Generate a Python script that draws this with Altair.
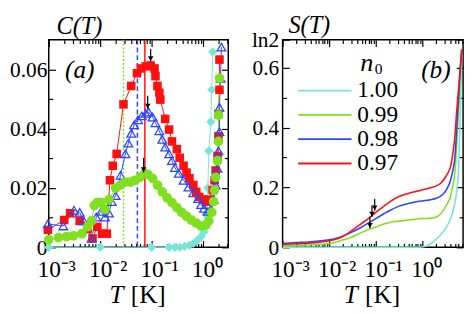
import altair as alt
import pandas as pd

FONT = "Liberation Serif"
RED, BLUE, GREEN, CYAN = "#ff1010", "#2a46ff", "#80e020", "#76e6d6"
LN2 = 0.693147

# ---------------- panel (a): C(T) ----------------
red_T = [0.00096, 0.0020, 0.0026, 0.0040, 0.0057, 0.0071, 0.0088, 0.0109, 0.0135, 0.0155,
         0.0176, 0.0209, 0.0284, 0.0402, 0.0521, 0.0620, 0.0771, 0.0958, 0.114, 0.119,
         0.130, 0.1415, 0.148, 0.184, 0.219, 0.249, 0.310, 0.352, 0.419, 0.478,
         0.544, 0.647, 0.738, 0.841, 1.00, 1.14, 1.30, 1.545, 1.68, 1.76,
         1.92, 2.00, 2.00, 2.09, 2.09]
red_C = [0.0059, 0.0092, 0.0115, 0.0089, 0.0062, 0.0030, 0.0069, 0.0046, 0.0046, 0.0226,
         0.0275, 0.0315, 0.0482, 0.0544, 0.0587, 0.0603, 0.0610, 0.0613, 0.0603, 0.0577,
         0.0544, 0.0521, 0.0498, 0.0433, 0.0397, 0.0357, 0.0331, 0.0302, 0.0275, 0.0252,
         0.0233, 0.0210, 0.0187, 0.0170, 0.0161, 0.0154, 0.0161, 0.0193, 0.0226, 0.0259,
         0.0308, 0.0374, 0.0449, 0.0531, 0.0633]

blue_T = [0.00096, 0.00192, 0.0031, 0.0040, 0.0048, 0.0068, 0.0084, 0.0104, 0.0124, 0.0148,
          0.0168, 0.0200, 0.0249, 0.0310, 0.0353, 0.0402, 0.0457, 0.0544, 0.0647, 0.0771,
          0.0878, 0.1045, 0.119, 0.1415, 0.161, 0.184, 0.219, 0.249, 0.284, 0.338,
          0.419, 0.521, 0.647, 0.805, 0.917, 1.044, 1.24, 1.42, 1.61, 1.76,
          1.92, 2.00, 2.09, 2.09, 2.19, 2.28]
blue_C = [0.0079, 0.0072, 0.0125, 0.0118, 0.0089, 0.0030, 0.0102, 0.0121, 0.0102, 0.0115,
          0.0154, 0.0174, 0.0243, 0.0315, 0.0351, 0.0384, 0.0413, 0.0430, 0.0443, 0.0452,
          0.0456, 0.0439, 0.0420, 0.0393, 0.0364, 0.0338, 0.0315, 0.0292, 0.0269, 0.0249,
          0.0226, 0.0203, 0.0184, 0.0164, 0.0144, 0.0131, 0.0121, 0.0128, 0.0161, 0.0210,
          0.0266, 0.0325, 0.0390, 0.0472, 0.0570, 0.0675]

green_T = [0.001, 0.00155, 0.0022, 0.0030, 0.0044, 0.0057, 0.0068, 0.0077, 0.0088, 0.0104,
           0.0124, 0.0148, 0.0200, 0.0249, 0.0310, 0.0385, 0.0477, 0.0594, 0.0737, 0.0841,
           0.1045, 0.130, 0.161, 0.200, 0.249, 0.310, 0.385, 0.478, 0.594, 0.738,
           0.917, 1.14, 1.30, 1.48, 1.61, 1.68, 1.76, 1.92, 2.00, 2.00, 2.09]
green_C = [0.0026, 0.0033, 0.0036, 0.0039, 0.0046, 0.0069, 0.0089, 0.0141, 0.0151, 0.0151,
           0.0128, 0.0161, 0.0200, 0.0210, 0.0220, 0.0220, 0.0226, 0.0236, 0.0249, 0.0246,
           0.0233, 0.0210, 0.0187, 0.0167, 0.0151, 0.0134, 0.0118, 0.0105, 0.0092, 0.0082,
           0.0072, 0.0075, 0.0089, 0.0118, 0.0154, 0.0193, 0.0236, 0.0292, 0.0357, 0.0446, 0.0570]

cyan_T = [0.001, 0.01, 0.1, 0.219, 0.284, 0.352, 0.438, 0.544, 0.647, 0.771,
          0.917, 1.044, 1.14, 1.24, 1.30, 1.42, 1.48, 1.545]
cyan_C = [0, 0, 0, 0, 0, 0, 0.0003, 0.0007, 0.0013, 0.0023,
          0.0036, 0.0052, 0.0111, 0.0200, 0.0325, 0.0423, 0.0531, 0.0659]

vline_T = [0.0284, 0.053, 0.074]          # green dotted, blue dashed, red solid
arrowA_T = [0.096, 0.084, 0.070]
arrowA_tail = [0.0669, 0.0511, 0.0302]
arrowA_tip = [0.0626, 0.0466, 0.0252]

# ---------------- panel (b): S(T) ----------------
S_T = [0.001, 0.002, 0.0035, 0.006, 0.01, 0.015, 0.02, 0.03, 0.05, 0.075,
       0.1, 0.15, 0.2, 0.3, 0.5, 0.7, 1.0, 1.5, 2.0, 2.5,
       3.0, 3.5, 4.0, 4.5, 5.0, 5.5, 6.0, 6.5, 7.0]
S_097 = [0.010, 0.012, 0.014, 0.017, 0.022, 0.029, 0.037, 0.055, 0.080, 0.100,
         0.117, 0.138, 0.152, 0.168, 0.180, 0.186, 0.192, 0.199, 0.205, 0.215,
         0.230, 0.247, 0.267, 0.310, 0.370, 0.460, 0.530, 0.600, 0.660]
S_098 = [0.013, 0.016, 0.018, 0.021, 0.025, 0.031, 0.038, 0.050, 0.068, 0.084,
         0.096, 0.112, 0.123, 0.136, 0.146, 0.151, 0.155, 0.159, 0.164, 0.172,
         0.183, 0.200, 0.222, 0.255, 0.300, 0.400, 0.500, 0.590, 0.660]
S_099 = [0.004, 0.006, 0.008, 0.010, 0.013, 0.019, 0.025, 0.034, 0.050, 0.061,
         0.068, 0.078, 0.083, 0.087, 0.091, 0.094, 0.096, 0.097, 0.101, 0.112,
         0.130, 0.148, 0.168, 0.205, 0.250, 0.350, 0.460, 0.570, 0.655]
S_100 = [0, 0, 0, 0, 0, 0, 0, 0, 0, 0,
         0, 0, 0, 0, 0, 0, 0.001, 0.012, 0.028, 0.043,
         0.058, 0.075, 0.094, 0.118, 0.148, 0.190, 0.260, 0.440, 0.645]
arrowB_T = [0.095, 0.083, 0.075]
arrowB_tail = [0.162, 0.140, 0.103]
arrowB_tip = [0.122, 0.101, 0.064]

n0_labels = ["1.00", "0.99", "0.98", "0.97"]
n0_colors = [CYAN, GREEN, BLUE, RED]

x_major = [0.001, 0.01, 0.1, 1.0]
x_major_labels = ["10⁻³", "10⁻²", "10⁻¹", "10⁰"]
ya_major = [0.0, 0.02, 0.04, 0.06]
ya_major_labels = ["0", "0.02", "0.04", "0.06"]
ya_minor = [0.01, 0.03, 0.05]
yb_major = [0.0, 0.2, 0.4, 0.6, LN2]
yb_major_labels = ["0", "0.2", "0.4", "0.6", "ln2"]
yb_minor = [0.1, 0.3, 0.5]

WA, WB, H = 185, 186, 214
XA_MAX, XB_MAX = 3.1, 7.5
MAJ, MIN = 7, 4


def minor_decades(xmax):
    return [m * 10.0 ** k for k in range(-3, 1) for m in range(2, 10) if m * 10.0 ** k <= xmax]


def label_expr(vals, labs):
    e = "''"
    for v, l in zip(reversed(vals), reversed(labs)):
        tol = max(abs(v) * 1e-3, 1e-9)
        e = f"abs(datum.value - ({v})) < {tol} ? '{l}' : ({e})"
    return e


def tick_axis(orient, values, size, **kw):
    opts = dict(orient=orient, values=values, tickSize=size, offset=-size, domain=False,
                grid=False, ticks=True, tickColor="black", tickWidth=1.2, labels=False,
                title=None)
    opts.update(kw)
    return alt.Axis(**opts)


XLAB = dict(labels=True, labelExpr=label_expr(x_major, x_major_labels), labelFont=FONT,
            labelFontSize=24, labelColor="black", labelPadding=11, labelAlign="left",
            labelOffset=-12, labelBaseline="top", labelFlush=False, labelOverlap=False)


def ylab(vals, labs, pad):
    return dict(labels=True, labelExpr=label_expr(vals, labs), labelFont=FONT,
                labelFontSize=22, labelColor="black", labelPadding=pad,
                labelFlush=False, labelOverlap=False)


def axis_layers(df, yfield, xscale, yscale, xmax, ymaj, ymajlab, ymin, ypad):
    base = alt.Chart(df).mark_point(opacity=0)
    xm = minor_decades(xmax)
    specs = [
        (tick_axis("bottom", x_major, MAJ, **XLAB), tick_axis("left", ymaj, MAJ, **ylab(ymaj, ymajlab, ypad))),
        (tick_axis("bottom", xm, MIN), tick_axis("left", ymin, MIN)),
        (tick_axis("top", x_major, MAJ), tick_axis("right", ymaj, MAJ)),
        (tick_axis("top", xm, MIN), tick_axis("right", ymin, MIN)),
    ]
    return [base.encode(x=alt.X("T:Q", scale=xscale, axis=ax_x),
                        y=alt.Y(f"{yfield}:Q", scale=yscale, axis=ax_y)) for ax_x, ax_y in specs]


def text_label(text, x, y, size, align="left", baseline="alphabetic", style="italic"):
    return alt.Chart(pd.DataFrame({"t": [text]})).mark_text(
        align=align, baseline=baseline, font=FONT, fontSize=size, fontStyle=style, color="black"
    ).encode(text="t:N", x=alt.value(x), y=alt.value(y))


def arrows(T, tail, tip, X, yscale):
    df = pd.DataFrame({"T": T, "tail": tail, "tip": tip})
    shaft = alt.Chart(df).mark_rule(color="black", strokeWidth=1.2).encode(
        x=X, y=alt.Y("tail:Q", scale=yscale, axis=None), y2="tip:Q")
    head = alt.Chart(df).mark_point(shape="triangle-down", filled=True, color="black",
                                    size=32, opacity=1, yOffset=-3).encode(
        x=X, y=alt.Y("tip:Q", scale=yscale, axis=None))
    return [shaft, head]


# ---------- panel (a) ----------
xsa = alt.Scale(type="log", domain=[0.001, XA_MAX], nice=False)
ysa = alt.Scale(domain=[0, 0.07], nice=False, zero=False)
XA = alt.X("T:Q", scale=xsa, axis=None)
YA = alt.Y("C:Q", scale=ysa, axis=None)


def dfs(T, V):
    return pd.DataFrame({"T": T, "C": V, "i": list(range(len(T)))})


df_a_all = pd.concat([dfs(red_T, red_C), dfs(blue_T, blue_C), dfs(green_T, green_C), dfs(cyan_T, cyan_C)])

series_specs = [
    (cyan_T, cyan_C, CYAN, lambda c: c.mark_point(shape="diamond", size=90, filled=True, color=CYAN, opacity=1)),
    (red_T, red_C, RED, lambda c: c.mark_square(size=78, color=RED, opacity=1)),
    (blue_T, blue_C, BLUE, lambda c: c.mark_point(shape="triangle-up", size=80, filled=False, color=BLUE, strokeWidth=1.3, opacity=1)),
    (green_T, green_C, GREEN, lambda c: c.mark_circle(size=100, color=GREEN, opacity=1)),
]

rule_styles = [dict(color=GREEN, strokeDash=[2, 2]), dict(color=BLUE, strokeDash=[5, 3]), dict(color=RED)]
layers_a = axis_layers(df_a_all, "C", xsa, ysa, XA_MAX, ya_major, ya_major_labels, ya_minor, 2)
for t, st in zip(vline_T, rule_styles):
    layers_a.append(alt.Chart(pd.DataFrame({"T": [t]})).mark_rule(strokeWidth=1.5, **st).encode(x=XA))
for T, C, col, mk in series_specs:
    df = dfs(T, C)
    layers_a.append(alt.Chart(df).mark_line(color=col, strokeWidth=1).encode(x=XA, y=YA, order="i:Q"))
for T, C, col, mk in series_specs:
    layers_a.append(mk(alt.Chart(dfs(T, C))).encode(x=XA, y=YA))
layers_a += arrows(arrowA_T, arrowA_tail, arrowA_tip, XA, ysa)
layers_a += [
    text_label("C(T)", 8, -6, 25),
    text_label("(a)", 32, 31, 26, align="center", baseline="middle"),
    text_label("T", WA / 2 - 30, H + 57, 26),
    text_label("[K]", WA / 2 - 8, H + 57, 26, style="normal"),
]
panel_a = alt.layer(*layers_a).resolve_axis(x="independent", y="independent").properties(width=WA, height=H)

# ---------- panel (b) ----------
xsb = alt.Scale(type="log", domain=[0.001, XB_MAX], nice=False)
ysb = alt.Scale(domain=[0, LN2], nice=False, zero=False)
XB = alt.X("T:Q", scale=xsb, axis=None)
YB = alt.Y("S:Q", scale=ysb, axis=None)

df_s = pd.concat([
    pd.DataFrame({"T": S_T, "S": vals, "n0": lab, "i": list(range(len(S_T)))})
    for lab, vals in zip(n0_labels, [S_100, S_099, S_098, S_097])
])

layers_b = axis_layers(df_s, "S", xsb, ysb, XB_MAX, yb_major, yb_major_labels, yb_minor, 4)
layers_b.append(
    alt.Chart(df_s).mark_line(interpolate="monotone", strokeWidth=1.6).encode(
        x=XB, y=YB, order="i:Q",
        color=alt.Color("n0:N", scale=alt.Scale(domain=n0_labels, range=n0_colors),
                        legend=alt.Legend(title=None, orient="none", legendX=15, legendY=40,
                                          symbolType="stroke", symbolSize=3025,
                                          symbolStrokeWidth=2, labelFont=FONT,
                                          labelFontSize=24, labelColor="black",
                                          labelOffset=5, rowPadding=0, padding=0,
                                          clipHeight=25, direction="vertical")))
)
layers_b += arrows(arrowB_T, arrowB_tail, arrowB_tip, XB, ysb)
layers_b += [
    text_label("S(T)", 6, -7, 25),
    text_label("(b)", WB - 28, 31, 26, align="center", baseline="middle"),
    text_label("n", 80, 32, 27),
    text_label("0", 95, 35, 16, style="normal"),
    text_label("T", WB / 2 - 30, H + 57, 26),
    text_label("[K]", WB / 2 - 8, H + 57, 26, style="normal"),
]
panel_b = alt.layer(*layers_b).resolve_axis(x="independent", y="independent").properties(width=WB, height=H)

chart = (
    alt.hconcat(panel_a, panel_b, spacing=21)
    .resolve_scale(color="independent")
    .resolve_legend(color="independent")
    .properties(padding=0, background="white")
    .configure_view(stroke="black", strokeWidth=1.5)
)

chart.save("out.html", embed_options={"renderer": "svg", "actions": False})
